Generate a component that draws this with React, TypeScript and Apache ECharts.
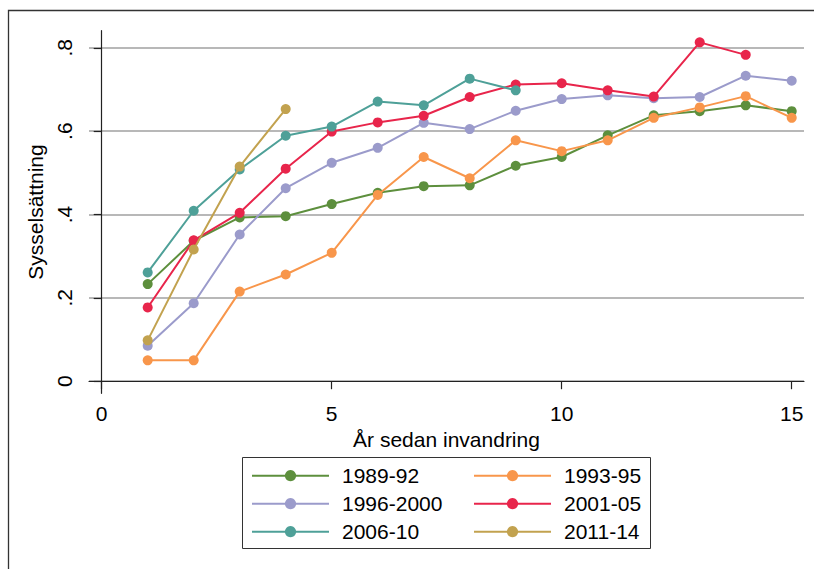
import React, { useEffect, useRef } from "react";
import * as echarts from "echarts";

const years = [1, 2, 3, 4, 5, 6, 7, 8, 9, 10, 11, 12, 13, 14, 15];
const s1989 = [0.233, 0.337, 0.393, 0.396, 0.425, 0.452, 0.468, 0.47, 0.517, 0.538, 0.59, 0.638, 0.648, 0.662, 0.648];
const s1993 = [0.05, 0.05, 0.215, 0.256, 0.308, 0.447, 0.538, 0.487, 0.578, 0.552, 0.578, 0.632, 0.657, 0.684, 0.632];
const s1996 = [0.085, 0.187, 0.352, 0.463, 0.524, 0.56, 0.62, 0.605, 0.649, 0.677, 0.686, 0.679, 0.682, 0.733, 0.721];
const s2001 = [0.177, 0.338, 0.404, 0.51, 0.599, 0.621, 0.637, 0.682, 0.712, 0.715, 0.698, 0.683, 0.813, 0.783];
const s2006 = [0.261, 0.409, 0.508, 0.589, 0.611, 0.671, 0.662, 0.726, 0.698];
const s2011 = [0.098, 0.316, 0.515, 0.653];

const seriesNames = ["1989-92", "1993-95", "1996-2000", "2001-05", "2006-10", "2011-14"];
const seriesValues = [s1989, s1993, s1996, s2001, s2006, s2011];
const colors = ["#5d8f3d", "#f8964b", "#9b9bcb", "#e8254b", "#4ea098", "#c2a24f"];

const yTicks = [0, 0.2, 0.4, 0.6, 0.8];
const yTickLabels = ["0", ".2", ".4", ".6", ".8"];
const xTicks = [0, 5, 10, 15];

const FONT = "'Liberation Sans', Arial, sans-serif";

export default function App() {
  const ref = useRef<HTMLDivElement>(null);
  useEffect(() => {
    if (!ref.current) return;
    const chart = echarts.init(ref.current, null, { renderer: "svg" });
    const series = seriesNames.map((name, i) => ({
      name,
      type: "line",
      data: seriesValues[i].map((v, j) => [years[j], v]),
      symbol: "circle",
      symbolSize: 10,
      showSymbol: true,
      lineStyle: { width: 2, color: colors[i] },
      itemStyle: { color: colors[i] },
      emphasis: { disabled: true },
      clip: false,
      z: 3 + i,
    }));
    const legendCommon = {
      orient: "vertical",
      padding: 0,
      itemWidth: 77,
      itemHeight: 14,
      itemGap: 7,
      selectedMode: false,
      textStyle: {
        fontFamily: FONT,
        fontSize: 21,
        color: "#000",
        lineHeight: 21,
        padding: [0, 0, 0, 8],
      },
    };
    chart.setOption({
      animation: false,
      backgroundColor: "#fff",
      textStyle: { fontFamily: FONT },
      grid: { left: 89, right: 10, top: 30.7, bottom: 175.7, containLabel: false },
      xAxis: {
        type: "value",
        min: -0.276,
        max: 15.267,
        name: "År sedan invandring",
        nameLocation: "middle",
        nameGap: 32,
        nameTextStyle: { fontFamily: FONT, fontSize: 21, color: "#000" },
        axisLine: { show: true, lineStyle: { color: "#222", width: 1.2 } },
        axisTick: { show: true, length: 8, customValues: xTicks, lineStyle: { color: "#222", width: 1.2 } },
        axisLabel: {
          customValues: xTicks,
          fontFamily: FONT,
          fontSize: 21,
          color: "#000",
          margin: 10,
        },
        splitLine: { show: false },
      },
      yAxis: {
        type: "value",
        min: -0.029,
        max: 0.841,
        name: "Sysselsättning",
        nameLocation: "middle",
        nameGap: 37,
        nameRotate: 90,
        nameTextStyle: { fontFamily: FONT, fontSize: 21, color: "#000" },
        axisLine: { show: true, lineStyle: { color: "#222", width: 1.2 } },
        axisTick: { show: true, length: 8, customValues: yTicks, lineStyle: { color: "#222", width: 1.2 } },
        axisLabel: {
          customValues: yTicks,
          rotate: 90,
          fontFamily: FONT,
          fontSize: 21,
          color: "#000",
          margin: 14,
          formatter: (v: number) => {
            const idx = yTicks.findIndex((t) => Math.abs(t - v) < 1e-6);
            return idx >= 0 ? yTickLabels[idx] : "";
          },
        },
        splitLine: { show: true, lineStyle: { color: "#a0a0a0", width: 1.5 } },
      },
      legend: [
        { ...legendCommon, left: 251, top: 465.2, data: [seriesNames[0], seriesNames[2], seriesNames[4]] },
        { ...legendCommon, left: 473, top: 465.2, data: [seriesNames[1], seriesNames[3], seriesNames[5]] },
      ],
      graphic: [
        {
          type: "rect",
          silent: true,
          shape: { x: 8.5, y: 10.5, width: 900, height: 700 },
          style: { fill: "none", stroke: "#333", lineWidth: 1.3 },
          z: -10,
        },
        {
          type: "rect",
          silent: true,
          shape: { x: 242.5, y: 457.5, width: 408, height: 91 },
          style: { fill: "none", stroke: "#333", lineWidth: 1 },
        },
      ],
      series,
    });
    return () => chart.dispose();
  }, []);
  return (
    <div
      ref={ref}
      style={{ position: "absolute", left: 0, top: 0, width: 814, height: 569 }}
    />
  );
}
